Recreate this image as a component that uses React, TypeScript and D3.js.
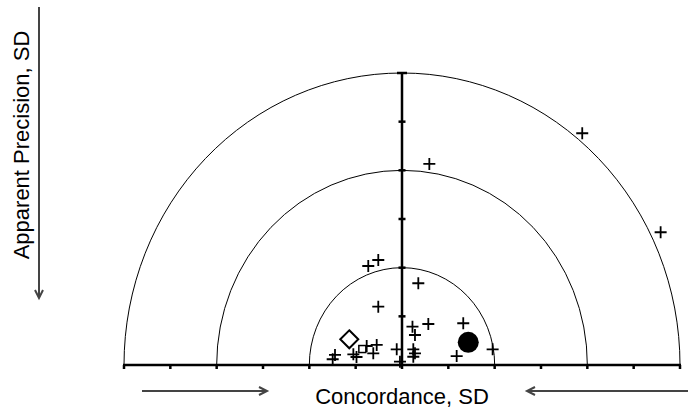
import React, { useRef, useEffect } from 'react';
import * as d3 from 'd3';

// Semicircle radii (SD units)
const RINGS = [1, 2, 3];
const X_TICKS = d3.range(-3, 3.01, 0.5);
const Y_TICKS = d3.range(0.5, 3.01, 0.5);

// Laboratory results (concordance, apparent precision), SD units
const CROSS_X = [0.295, 1.945, 2.791, -0.256, -0.364, 0.176, -0.256, 0.113, 0.284, 0.661, 0.14, 0.122, 0.14, 0.122, 0.59, 0.978, -0.057, -0.022, -0.273, -0.381, -0.31, -0.525, -0.491, -0.723, -0.748];
const CROSS_Y = [2.066, 2.381, 1.364, 1.079, 1.017, 0.84, 0.599, 0.394, 0.421, 0.429, 0.308, 0.161, 0.12, 0.085, 0.092, 0.161, 0.161, 0.034, 0.206, 0.195, 0.12, 0.11, 0.082, 0.103, 0.059];
const SQUARE = [-0.428, 0.164];
const DIAMOND = [-0.569, 0.264];
const CIRCLE = [0.715, 0.233];

const W = 688;
const H = 410;
const FONT = 'Arial, "Liberation Sans", sans-serif';

const App: React.FC = () => {
  const ref = useRef<SVGSVGElement>(null);

  useEffect(() => {
    if (!ref.current) return;
    const svg = d3.select(ref.current);
    svg.selectAll('*').remove();

    const x = d3.scaleLinear().domain([-3, 3]).range([124, 680]);
    const y = d3.scaleLinear().domain([0, 3]).range([365, 73]);

    // Rings (half ellipses)
    RINGS.forEach((r) => {
      const rx = x(r) - x(0);
      const ry = y(0) - y(r);
      svg
        .append('path')
        .attr('d', `M${x(-r)},${y(0)}A${rx},${ry} 0 0 1 ${x(r)},${y(0)}`)
        .attr('fill', 'none')
        .attr('stroke', '#000')
        .attr('stroke-width', 1);
    });

    // Horizontal axis
    svg
      .append('line')
      .attr('x1', x(-3) - 1)
      .attr('x2', x(3) + 1)
      .attr('y1', y(0))
      .attr('y2', y(0))
      .attr('stroke', '#000')
      .attr('stroke-width', 2.5);
    svg
      .selectAll('.xtick')
      .data(X_TICKS)
      .enter()
      .append('line')
      .attr('x1', (d) => x(d))
      .attr('x2', (d) => x(d))
      .attr('y1', y(0))
      .attr('y2', y(0) + 4)
      .attr('stroke', '#000')
      .attr('stroke-width', 2.5);

    // Vertical axis
    svg
      .append('line')
      .attr('x1', x(0))
      .attr('x2', x(0))
      .attr('y1', y(3))
      .attr('y2', y(0))
      .attr('stroke', '#000')
      .attr('stroke-width', 2.5);
    svg
      .selectAll('.ytick')
      .data(Y_TICKS)
      .enter()
      .append('line')
      .attr('x1', (d) => x(0) - (d === 3 ? 5 : 3.5))
      .attr('x2', (d) => x(0) + (d === 3 ? 5 : 3.5))
      .attr('y1', (d) => y(d))
      .attr('y2', (d) => y(d))
      .attr('stroke', '#000')
      .attr('stroke-width', 2.5);

    // Crosses
    svg
      .selectAll('.cross')
      .data(CROSS_X.map((v, i) => [v, CROSS_Y[i]]))
      .enter()
      .append('path')
      .attr('d', 'M-6,0H6M0,-6V6')
      .attr('transform', (d) => `translate(${x(d[0])},${y(d[1])})`)
      .attr('stroke', '#000')
      .attr('stroke-width', 1.8)
      .attr('fill', 'none');

    // Square
    svg
      .append('rect')
      .attr('x', x(SQUARE[0]) - 3.5)
      .attr('y', y(SQUARE[1]) - 3.5)
      .attr('width', 7)
      .attr('height', 7)
      .attr('fill', '#fff')
      .attr('stroke', '#000')
      .attr('stroke-width', 1.5);

    // Diamond
    svg
      .append('path')
      .attr('d', 'M0,-9L9,0L0,9L-9,0Z')
      .attr('transform', `translate(${x(DIAMOND[0])},${y(DIAMOND[1])})`)
      .attr('fill', '#fff')
      .attr('stroke', '#000')
      .attr('stroke-width', 2);

    // Circle
    svg
      .append('circle')
      .attr('cx', x(CIRCLE[0]))
      .attr('cy', y(CIRCLE[1]))
      .attr('r', 10.5)
      .attr('fill', '#000');

    // Direction arrows
    const arrow = (x1: number, x2: number, yy: number, dir: number) => {
      svg
        .append('line')
        .attr('x1', x1)
        .attr('x2', x2)
        .attr('y1', yy)
        .attr('y2', yy)
        .attr('stroke', '#444')
        .attr('stroke-width', 2);
      svg
        .append('path')
        .attr('d', `M${x2 - dir * 8},${yy - 4}L${x2},${yy}L${x2 - dir * 8},${yy + 4}`)
        .attr('fill', 'none')
        .attr('stroke', '#444')
        .attr('stroke-width', 2);
    };
    arrow(142, 267, 391, 1);
    arrow(690, 527, 391, -1);

    // Vertical arrow
    svg
      .append('line')
      .attr('x1', 39)
      .attr('x2', 39)
      .attr('y1', 7)
      .attr('y2', 298)
      .attr('stroke', '#444')
      .attr('stroke-width', 2);
    svg
      .append('path')
      .attr('d', `M35,290L39,298L43,290`)
      .attr('fill', 'none')
      .attr('stroke', '#444')
      .attr('stroke-width', 2);

    // Labels
    svg
      .append('text')
      .attr('x', x(0))
      .attr('y', 404)
      .attr('text-anchor', 'middle')
      .style('font-family', FONT)
      .style('font-size', '22px')
      .text('Concordance, SD');

    svg
      .append('text')
      .attr('transform', 'translate(29,145) rotate(-90)')
      .attr('text-anchor', 'middle')
      .style('font-family', FONT)
      .style('font-size', '22px')
      .text('Apparent Precision, SD');
  }, []);

  return (
    <svg
      ref={ref}
      width={W}
      height={H}
      style={{ position: 'absolute', left: 0, top: 0, background: '#fff' }}
    />
  );
};

export default App;
